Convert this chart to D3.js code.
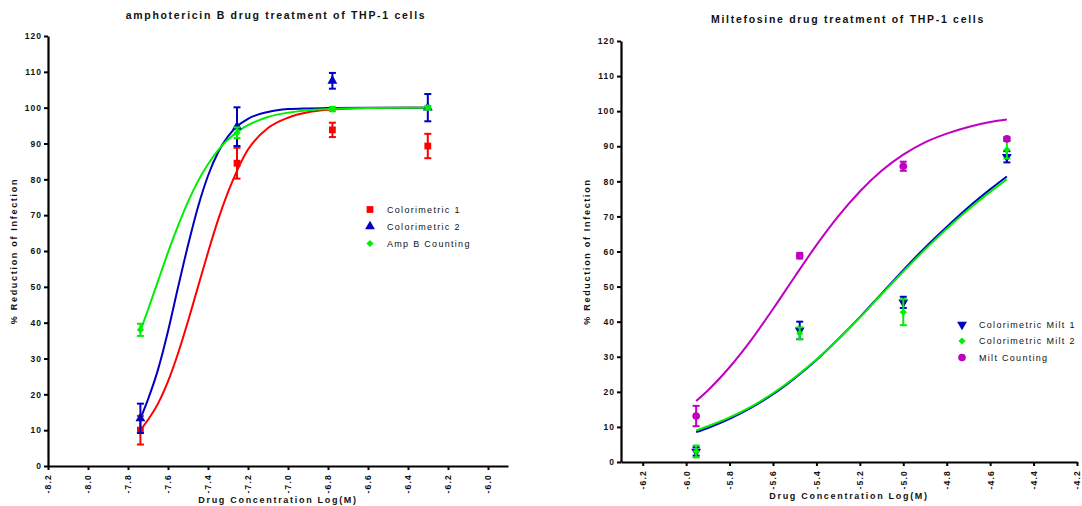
<!DOCTYPE html>
<html>
<head>
<meta charset="utf-8">
<script src="https://cdn.jsdelivr.net/npm/d3@7"></script>
<style>
  html, body { margin: 0; padding: 0; background: #fff; }
  svg text { font-family: "Liberation Sans", Arial, sans-serif; fill: #111; }
</style>
</head>
<body>
<svg id="chart" width="1082" height="506"></svg>
<script>
// ---------------- DATA ----------------
// Amphotericin B panel
const ampX = [-7.738, -7.255, -6.778, -6.301];
const ampCol1 = [10.0, 84.5, 93.8, 89.3];
const ampCol1Err = [4.0, 4.3, 2.0, 3.4];
const ampCol2 = [13.3, 94.7, 107.5, 100.0];
const ampCol2Err = [4.1, 5.4, 2.2, 3.8];
const ampCount = [38.0, 93.0, 99.6, 100.0];
const ampCountErr = [1.7, 1.5, 0.6, 0.5];

// fitted curves
const ampCurveX = [-7.738, -7.7, -7.65, -7.6, -7.55, -7.5, -7.45, -7.4, -7.35, -7.3, -7.25, -7.2, -7.1, -7.0, -6.9, -6.8, -6.6, -6.4, -6.301];
const ampCol1Curve = [10.0, 12.9, 17.4, 23.6, 31.4, 40.4, 50.0, 59.6, 68.6, 76.4, 83.0, 88.3, 94.3, 97.2, 98.7, 99.4, 99.9, 100.0, 100.0];
const ampCol2Curve = [13.2, 18.6, 26.9, 37.6, 49.8, 61.6, 72.3, 81.0, 87.5, 92.0, 95.0, 96.9, 98.8, 99.6, 99.8, 99.9, 100.0, 100.0, 100.0];
const ampCountCurve = [37.7, 43.6, 51.6, 59.6, 67.0, 73.7, 79.5, 84.2, 88.1, 91.1, 93.4, 95.1, 97.4, 98.6, 99.3, 99.6, 99.9, 100.0, 100.0];

const ampXTicks = [-8.2, -8.0, -7.8, -7.6, -7.4, -7.2, -7.0, -6.8, -6.6, -6.4, -6.2, -6.0];
const ampXTickLabels = ["-8.2", "-8.0", "-7.8", "-7.6", "-7.4", "-7.2", "-7.0", "-6.8", "-6.6", "-6.4", "-6.2", "-6.0"];

// Miltefosine panel
const miltX = [-5.954, -5.477, -5.0, -4.523];
const miltCol1 = [3.0, 37.5, 45.5, 87.0];
const miltCol1Err = [1.2, 2.5, 1.6, 1.6];
const miltCol2 = [3.0, 36.7, 42.7, 89.0];
const miltCol2Err = [1.7, 1.7, 3.7, 2.5];
const miltCount = [13.1, 58.8, 84.3, 92.1];
const miltCountErr = [2.9, 0.8, 1.3, 0.5];

const miltCurveX = [-5.954, -5.9, -5.8, -5.7, -5.6, -5.5, -5.4, -5.3, -5.2, -5.1, -5.0, -4.9, -4.8, -4.7, -4.6, -4.523];
const miltCol1Curve = [8.5, 9.7, 12.3, 15.5, 19.3, 23.9, 29.1, 35.0, 41.3, 48.0, 54.7, 61.1, 67.0, 72.6, 77.7, 81.4];
const miltCol2Curve = [9.0, 10.2, 12.7, 15.8, 19.6, 24.1, 29.2, 35.0, 41.2, 47.8, 54.3, 60.6, 66.5, 72.0, 77.0, 80.6];
const miltCountCurve = [17.4, 20.4, 27.0, 34.8, 43.6, 52.8, 61.8, 70.0, 77.1, 83.0, 87.6, 91.1, 93.6, 95.5, 96.9, 97.6];

const miltXTicks = [-6.2, -6.0, -5.8, -5.6, -5.4, -5.2, -5.0, -4.8, -4.6, -4.4, -4.2];
const miltXTickLabels = ["-6.2", "-6.0", "-5.8", "-5.6", "-5.4", "-5.2", "-5.0", "-4.8", "-4.6", "-4.4", "-4.2"];

const yTicks = [0, 10, 20, 30, 40, 50, 60, 70, 80, 90, 100, 110, 120];
const yTickLabels = ["0", "10", "20", "30", "40", "50", "60", "70", "80", "90", "100", "110", "120"];

const ampTitle = "amphotericin B drug treatment of THP-1 cells";
const miltTitle = "Miltefosine drug treatment of THP-1 cells";
const xTitle = "Drug Concentration Log(M)";
const yTitle = "% Reduction of Infection";

const ampLegend = ["Colorimetric 1", "Colorimetric 2", "Amp B Counting"];
const miltLegend = ["Colorimetric Milt 1", "Colorimetric Milt 2", "Milt Counting"];

// ---------------- DRAWING ----------------
const RED = "#ff0000", BLUE = "#0000c0", GREEN = "#00ee00", PURPLE = "#c000c0";
const svg = d3.select("#chart");

function symbolFor(type) {
  if (type === "square") return d3.symbol().type(d3.symbolSquare).size(46);
  if (type === "triangle") return d3.symbol().type(d3.symbolTriangle).size(42);
  if (type === "triangleDown") return d3.symbol().type(d3.symbolTriangle).size(42);
  if (type === "diamond") return d3.symbol().type(d3.symbolSquare).size(26);
  return d3.symbol().type(d3.symbolCircle).size(46);
}
function drawMarker(g, type, cx, cy, color) {
  const rot = type === "triangleDown" ? " rotate(180)" : type === "diamond" ? " rotate(45)" : "";
  g.append("path")
    .attr("d", symbolFor(type)())
    .attr("transform", `translate(${cx},${cy})${rot}`)
    .attr("fill", color);
}

function panel(cfg) {
  const g = svg.append("g");
  const x = d3.scaleLinear().domain(cfg.xDomain).range([cfg.left, cfg.right]);
  const y = d3.scaleLinear().domain([0, 120]).range([cfg.bottom, cfg.top]);

  // Y axis
  const yAx = g.append("g").attr("transform", `translate(${cfg.left},0)`)
    .call(d3.axisLeft(y).tickValues(yTicks).tickSize(4).tickSizeOuter(0)
      .tickFormat((d, i) => yTickLabels[i]));
  yAx.select(".domain").attr("stroke", "#000").attr("stroke-width", 2.2);
  yAx.selectAll(".tick line").attr("stroke", "#000").attr("stroke-width", 2);
  yAx.selectAll(".tick text").attr("x", -6).attr("font-size", 8.5).attr("font-weight", "bold")
    .attr("letter-spacing", 1).attr("fill", "#222");

  // X axis
  const xAx = g.append("g").attr("transform", `translate(0,${cfg.bottom})`)
    .call(d3.axisBottom(x).tickValues(cfg.xTicks).tickSize(4).tickSizeOuter(0)
      .tickFormat((d, i) => cfg.xTickLabels[i]));
  xAx.select(".domain").attr("stroke", "#000").attr("stroke-width", 2.2);
  xAx.selectAll(".tick line").attr("stroke", "#000").attr("stroke-width", 2);
  xAx.selectAll(".tick text")
    .attr("transform", "rotate(-90)")
    .attr("text-anchor", "end")
    .attr("x", -8).attr("y", 0).attr("dy", "0.35em")
    .attr("font-size", 8.5).attr("font-weight", "bold").attr("letter-spacing", 1.2).attr("fill", "#222");

  // Titles
  g.append("text").attr("x", cfg.titleX).attr("y", cfg.titleY)
    .attr("text-anchor", "middle").attr("font-size", 10.5).attr("font-weight", "bold")
    .attr("letter-spacing", 1.7).text(cfg.title);
  g.append("text").attr("x", (cfg.left + cfg.right) / 2).attr("y", cfg.xTitleY)
    .attr("text-anchor", "middle").attr("font-size", 9).attr("font-weight", "bold")
    .attr("letter-spacing", 1.7).text(xTitle);
  g.append("text").attr("transform", `translate(${cfg.yTitleX},${(cfg.top + cfg.bottom) / 2}) rotate(-90)`)
    .attr("text-anchor", "middle").attr("font-size", 9).attr("font-weight", "bold")
    .attr("letter-spacing", 1.7).text(yTitle);

  const line = d3.line().x(d => x(d[0])).y(d => y(d[1])).curve(d3.curveMonotoneX);

  // curves
  cfg.series.forEach(s => {
    g.append("path").datum(cfg.curveX.map((v, i) => [v, s.curve[i]]))
      .attr("d", line).attr("fill", "none").attr("stroke", s.color).attr("stroke-width", 2);
  });
  // error bars + markers
  cfg.series.forEach(s => {
    cfg.dataX.forEach((xv, i) => {
      const cx = x(xv), v = s.values[i], e = s.err[i];
      const y1 = y(v + e), y2 = y(v - e);
      g.append("line").attr("x1", cx).attr("x2", cx).attr("y1", y1).attr("y2", y2)
        .attr("stroke", s.color).attr("stroke-width", 2);
      [y1, y2].forEach(yy => g.append("line").attr("x1", cx - 3.5).attr("x2", cx + 3.5)
        .attr("y1", yy).attr("y2", yy).attr("stroke", s.color).attr("stroke-width", 2));
      drawMarker(g, s.symbol, cx, y(v), s.color);
    });
  });

  // legend
  cfg.series.forEach((s, i) => {
    const ly = cfg.legendY + i * cfg.legendStep;
    drawMarker(g, s.symbol, cfg.legendX, ly, s.color);
    g.append("text").attr("x", cfg.legendX + 17).attr("y", ly).attr("dy", "0.35em")
      .attr("font-size", 9).attr("letter-spacing", 1.3).attr("fill", "#222").text(cfg.legend[i]);
  });
}

panel({
  left: 48, right: 508, top: 36, bottom: 466,
  xDomain: [-8.2, -5.9], xTicks: ampXTicks, xTickLabels: ampXTickLabels,
  title: ampTitle, titleX: 276, titleY: 19, xTitleY: 503, yTitleX: 17,
  dataX: ampX, curveX: ampCurveX,
  legendX: 370, legendY: 209.5, legendStep: 17, legend: ampLegend,
  series: [
    { values: ampCol1, err: ampCol1Err, curve: ampCol1Curve, color: RED, symbol: "square" },
    { values: ampCol2, err: ampCol2Err, curve: ampCol2Curve, color: BLUE, symbol: "triangle" },
    { values: ampCount, err: ampCountErr, curve: ampCountCurve, color: GREEN, symbol: "diamond" }
  ]
});

panel({
  left: 621, right: 1077, top: 41, bottom: 462,
  xDomain: [-6.3, -4.2], xTicks: miltXTicks, xTickLabels: miltXTickLabels,
  title: miltTitle, titleX: 848, titleY: 23, xTitleY: 499, yTitleX: 590,
  dataX: miltX, curveX: miltCurveX,
  legendX: 962, legendY: 324.5, legendStep: 16.5, legend: miltLegend,
  series: [
    { values: miltCol1, err: miltCol1Err, curve: miltCol1Curve, color: BLUE, symbol: "triangleDown" },
    { values: miltCol2, err: miltCol2Err, curve: miltCol2Curve, color: GREEN, symbol: "diamond" },
    { values: miltCount, err: miltCountErr, curve: miltCountCurve, color: PURPLE, symbol: "circle" }
  ]
});
</script>
</body>
</html>
